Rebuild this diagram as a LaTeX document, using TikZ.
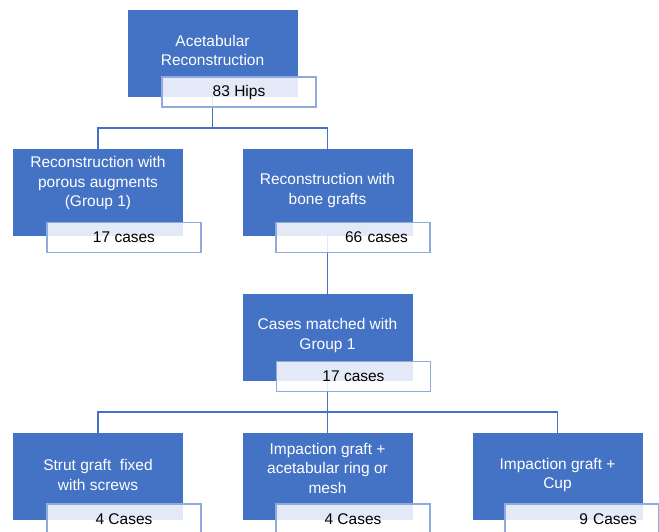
\documentclass[tikz,border=0pt]{standalone}
\usepackage{fontspec}
\setmainfont{Liberation Sans}
\usetikzlibrary{positioning}
\definecolor{boxblue}{HTML}{4472C4}
\definecolor{tagline}{HTML}{8FAADC}

\begin{document}
\begin{tikzpicture}[
    x=1pt, y=-1pt, % pixel-like grid, y going down
    every node/.style={font=\fontsize{15.5}{19.5}\selectfont},
    group/.style={fill=boxblue, minimum width=170pt, minimum height=87pt, inner sep=0pt},
    grouptext/.style={text=white, align=center, inner sep=0pt},
    tag/.style={draw=tagline, line width=1.5pt, fill=white, fill opacity=0.85, text opacity=1,
                minimum width=154pt, minimum height=30pt, inner sep=0pt},
    tagright/.style={tag, text width=110pt, inner xsep=22pt, align=right},
    link/.style={draw=boxblue, line width=1.5pt}
]
    \useasboundingbox (0,0) rectangle (659,531);
    \clip (0,0) rectangle (659,531);

    % Blue boxes
    \node[group] (top)   at (212.5,53.5)  {};
    \node[group] (g1)    at (98,192.5)    {};
    \node[group] (g2)    at (327.5,192.5) {};
    \node[group] (match) at (327.5,337.5) {};
    \node[group] (s1)    at (98,476.5)    {};
    \node[group] (s2)    at (327.5,476.5) {};
    \node[group] (s3)    at (557.5,476.5) {};

    % Box texts
    \node[grouptext] (topT)   at (212.5,50.5) {Acetabular\\Reconstruction};
    \node[grouptext] (g1T)    at (98,183)     {Reconstruction with\\porous augments\\(Group 1)};
    \node[grouptext] (g2T)    at (327.5,190.5) {Reconstruction with\\bone grafts};
    \node[grouptext] (matchT) at (327.5,335.5) {Cases matched with\\Group 1};
    \node[grouptext] (s1T)    at (98,475)     {Strut graft~ fixed\\with screws};
    \node[grouptext] (s2T)    at (327.5,468)  {Impaction graft +\\acetabular ring or\\mesh};
    \node[grouptext] (s3T)    at (557.5,475)  {Impaction graft +\\Cup};

    % Connectors
    \draw[link] (top.south) -- ++(0,31) -| (g1.north);
    \draw[link] (top.south) -- ++(0,31) -| (g2.north);
    \draw[link] (g2.south) -- (match.north);
    \draw[link] (match.south) -- ++(0,31) -| (s1.north);
    \draw[link] (match.south) -- ++(0,31) -| (s2.north);
    \draw[link] (match.south) -- ++(0,31) -| (s3.north);

    % Count tags
    \node[tag]      (hips)   at (239,92)     {83 Hips};
    \node[tag]      (g1N)    at (124,237.5)  {17 cases};
    \node[tagright] (g2N)    at (353,237.5)  {66 cases};
    \node[tag]      (matchN) at (353.5,376.5) {17 cases};
    \node[tag]      (s1N)    at (124,519)    {4 Cases};
    \node[tag]      (s2N)    at (353,519)    {4 Cases};
    \node[tagright] (s3N)    at (582,519)    {9 Cases};
\end{tikzpicture}
\end{document}
